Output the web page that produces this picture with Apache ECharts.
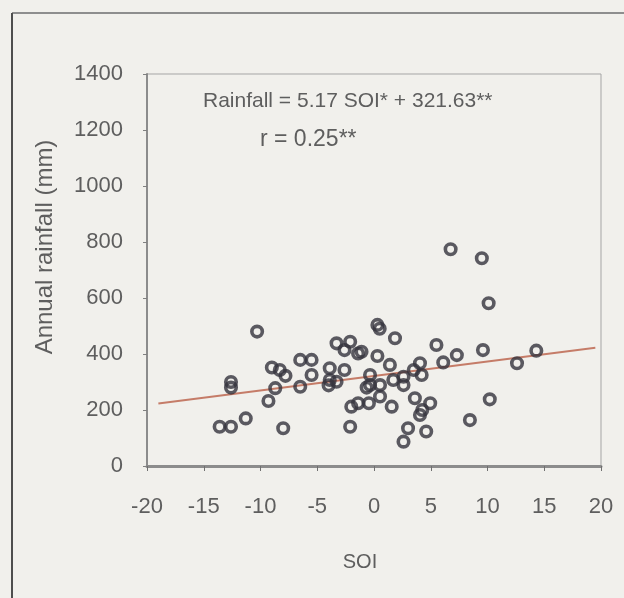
<!DOCTYPE html>
<html>
<head>
<meta charset="utf-8">
<script src="https://cdn.jsdelivr.net/npm/echarts@6/dist/echarts.min.js"></script>
<style>
  html, body { margin: 0; padding: 0; background: #f1f0ec; }
  #chart { width: 624px; height: 598px; }
</style>
</head>
<body>
<div id="chart"></div>
<script>
// Southern Oscillation Index vs annual rainfall, one point per year
const soi = [
  -13.6, -12.6, -11.3, -12.6, -12.6, -10.3, -9.0, -8.3, -7.8, -9.3,
  -8.7, -8.0, -6.5, -5.5, -5.5, -6.5, -3.3, -2.1, -2.6, -1.4,
  -3.9, -2.6, -3.9, -3.3, -4.0, -2.0, -1.4, -2.1, -1.1, -0.35,
  -0.35, -0.65, -0.45, 0.3, 0.5, 0.3, 1.85, 1.4, 1.7, 0.53,
  2.6, 2.6, 0.53, 1.56, 3.5, 4.05, 4.2, 3.6, 4.95, 4.05,
  4.25, 3.0, 2.6, 4.6, 5.5, 6.1, 6.75, 7.3, 9.5, 9.6,
  10.1, 10.2, 8.45, 12.6, 14.3
];
const rainfall = [
  140, 140, 170, 300, 280, 480, 352, 343, 322, 232,
  278, 135, 379, 379, 325, 283, 438, 444, 414, 402,
  349, 343, 307, 301, 288, 212, 224, 140, 408, 325,
  289, 280, 224, 504, 490, 393, 456, 361, 307, 289,
  289, 319, 248, 212, 343, 367, 325, 242, 224, 182,
  200, 135, 87, 123, 432, 370, 774, 396, 742, 414,
  581, 238, 164, 367, 412
];

// Fitted regression: Rainfall = slope * SOI + intercept
const slope = 5.17;
const intercept = 321.63;
const fitRange = [-19, 19.5];

const xTicks = { min: -20, max: 20, step: 5 };
const yTicks = { min: 0, max: 1400, step: 200 };

const points = soi.map((s, i) => [s, rainfall[i]]);
const fitLine = fitRange.map(x => [x, slope * x + intercept]);

const chart = echarts.init(document.getElementById('chart'), null, { renderer: 'canvas' });
const labelFont = 'Liberation Sans, Arial, sans-serif';
const textGrey = '#5e5e5e';

chart.setOption({
  backgroundColor: '#f1f0ec',
  animation: false,
  grid: {
    left: 147, right: 23, top: 74, bottom: 132,
    show: true, borderColor: '#a5a5a5', borderWidth: 1,
    backgroundColor: 'transparent'
  },
  xAxis: {
    type: 'value',
    min: xTicks.min, max: xTicks.max, interval: xTicks.step,
    name: 'SOI',
    nameLocation: 'middle',
    nameGap: 86,
    nameTextStyle: { color: textGrey, fontSize: 20, fontFamily: labelFont, padding: [0, 28, 0, 0] },
    axisLine: { show: true, onZero: false, lineStyle: { color: '#8c8c8c', width: 3 } },
    axisTick: { show: true, length: 5, inside: false, lineStyle: { color: '#707070', width: 1 } },
    axisLabel: { color: textGrey, fontSize: 22, margin: 30, fontFamily: labelFont },
    splitLine: { show: false }
  },
  yAxis: {
    type: 'value',
    min: yTicks.min, max: yTicks.max, interval: yTicks.step,
    name: 'Annual rainfall (mm)',
    nameLocation: 'middle',
    nameGap: 90,
    nameRotate: 90,
    nameTextStyle: { color: textGrey, fontSize: 24, fontFamily: labelFont, padding: [0, 0, 0, 46] },
    axisLine: { show: true, onZero: false, lineStyle: { color: '#8c8c8c', width: 2 } },
    axisTick: { show: true, length: 4, inside: false, lineStyle: { color: '#808080', width: 1 } },
    axisLabel: {
      color: textGrey, fontSize: 22, margin: 24, fontFamily: labelFont,
      formatter: v => String(v)
    },
    splitLine: { show: false }
  },
  graphic: [
    // outer figure frame
    { type: 'line', shape: { x1: 12, y1: 13, x2: 624, y2: 13 }, style: { stroke: '#8e8e8e', lineWidth: 2 } },
    { type: 'line', shape: { x1: 12, y1: 13, x2: 12, y2: 598 }, style: { stroke: '#4e4e4e', lineWidth: 2 } },
    // regression equation and correlation
    { type: 'text', left: 203, top: 91,
      style: { text: 'Rainfall = 5.17 SOI* + 321.63**', fill: textGrey, font: '21px Liberation Sans, Arial, sans-serif' } },
    { type: 'text', left: 260, top: 128,
      style: { text: 'r = 0.25**', fill: textGrey, font: '23px Liberation Sans, Arial, sans-serif' } }
  ],
  series: [
    {
      type: 'line',
      data: fitLine,
      symbol: 'none',
      lineStyle: { color: '#c57c68', width: 2 },
      z: 2
    },
    {
      type: 'scatter',
      data: points,
      symbol: 'circle',
      symbolSize: 10.5,
      itemStyle: { color: 'rgba(0,0,0,0)', borderColor: '#34333d', borderWidth: 3.6 },
      z: 3
    }
  ]
});
</script>
</body>
</html>
